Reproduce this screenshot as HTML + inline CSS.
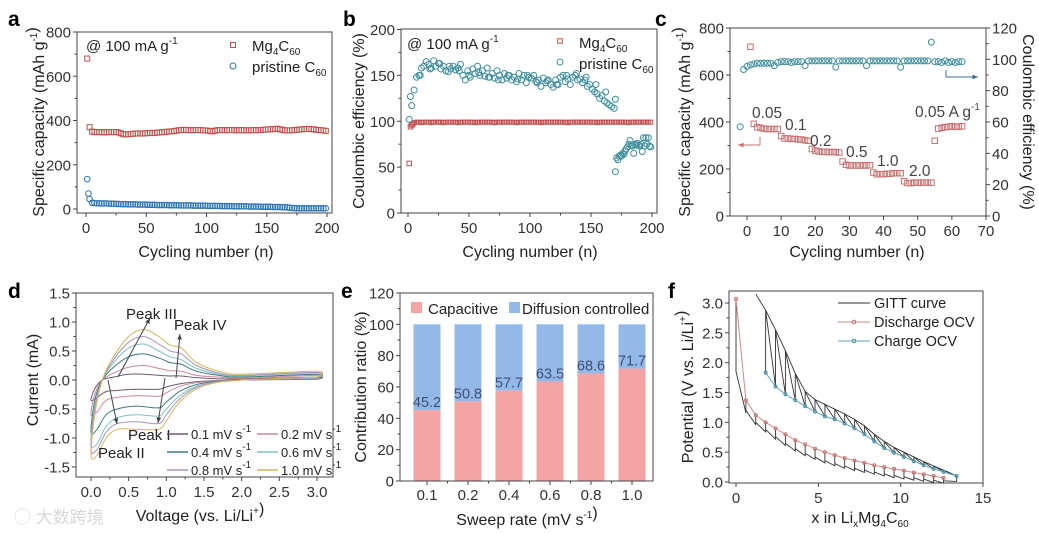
<!DOCTYPE html>
<html><head><meta charset="utf-8">
<style>
html,body{margin:0;padding:0;background:#fff;}
svg{display:block;font-family:"Liberation Sans","Noto Sans CJK SC",sans-serif;}
</style></head>
<body>
<svg id="fig" width="1039" height="534" viewBox="0 0 1039 534" xmlns="http://www.w3.org/2000/svg">
<rect width="1039" height="534" fill="#fff"/>
</svg>
<script>
// ---------- data ----------
const aMg=[680,370,350,348,347,348,347,346,347,348,347,348,348,346,342,338,337,338,339,340,341,341,342,341,342,343,344,343,344,345,346,347,348,349,350,351,352,354,356,357,358,357,357,356,356,357,357,356,356,355,354,352,351,354,356,357,357,356,356,357,357,356,356,356,357,356,356,355,356,357,356,357,357,358,359,360,360,361,362,363,360,358,356,355,355,356,357,358,359,360,361,362,362,361,360,358,357,356,355,353];
const aPr=[135,45,28,27,26,26,25,25,25,24,24,24,23,23,22,22,22,21,21,21,21,20,20,20,20,19,19,19,19,18,18,18,18,18,17,17,17,17,17,16,16,16,16,16,15,15,15,15,15,15,14,14,14,14,14,14,13,13,13,13,13,12,12,12,12,12,12,11,11,11,11,11,10,10,10,10,10,9,9,9,9,8,8,7,6,5,4,3,3,3,3,3,3,3,3,3,3,3,3,3];
const aPrEarly=[70];
const bMgEarly=[54,94,96,97];
const bMg=[98.5,99,99,98.5,99,99,99,98.5,99,99,99,99,98.5,99,99,99,99,99,98.5,99,99,99,99,99,99,98.5,99,99,99,99,99,99,99,98.5,99,99,99,99,99,99,99,99,98.5,99,99,99,99,99,99,99,99,99,98.5,99,99,99,99,99,99,99,99,99,99,98.5,99,99,99,99,99,99,99,99,99,99,99,98.5,99,99,99,99,99,99,99,99,99,99,99,99,98.5,99,99,99,99,99,99,99,99,99];
const bPr1=[102,117,134,148,150,158,160,165,162,158,166,160,163,157,160,155,154,157,160,156,158,162,150,145,155,148,157,152,160,150,155,149,158,148,152,147,155,150,145,152,147,150,145,148,143,152,145,150,142,148,147,150,143,145,138,147,142,145,140,137,145,140,148,150,143,146,140,148,150,145,146,142,145,138,140,135,132,130,125,128,122,120,118,116,114];
const bPr1b=[127,150,157,163,160,155,150,153,148,145,150,146,150,142,144,140,150,152,148,140,132,124];
const bPr2=[45,60,58,62,63,62,65,64,68,70,72,75,79,74,73,65,75,74,76,74,73,75,67,82,73,82,75,82,73,72];
const cCap=[720,392,378,375,372,370,370,370,370,340,330,330,328,328,326,325,322,320,285,278,275,273,273,272,272,272,270,232,218,215,215,215,215,215,215,216,185,178,178,178,180,180,182,182,182,148,140,140,142,142,142,142,142,142,320,372,375,378,380,382,380,380,382];
const cCE=[57,93.5,95.5,96.5,97,97.5,97.5,97.5,97.5,97.5,96,98,98.5,98.5,98.5,98,98.5,98.5,98.5,96,99,99,99,99,99,99,99,99,95,99,99,99,99,99,99,99,99,96,99,99,99,99,99,99,99,99,99,95,99,99,99,99,99,99,99,99,111,98.5,98.5,98,99,98,98.5,98,98.5,98.5];
const cRateLabels=['0.05','0.1','0.2','0.5','1.0','2.0'];
const dVC=[3.0,2.0,1.5,1.2,1.0,0.9,0.6,0.35,0.2,0.08,0.0];
const dVA=[0.0,0.05,0.15,0.3,0.5,0.7,0.9,1.05,1.2,1.4,1.7,2.0,3.0];
const dRates=['0.1','0.2','0.4','0.6','0.8','1.0'];
const dIC01=[0.01,0,-0.02,-0.06,-0.12,-0.16,-0.16,-0.18,-0.2,-0.3,-0.35];
const dIC02=[0.02,0,-0.03,-0.1,-0.22,-0.28,-0.27,-0.3,-0.35,-0.55,-0.6];
const dIC04=[0.03,0,-0.05,-0.18,-0.38,-0.48,-0.45,-0.5,-0.6,-0.85,-0.9];
const dIC06=[0.03,0,-0.07,-0.25,-0.5,-0.62,-0.6,-0.65,-0.8,-1.1,-1.1];
const dIC08=[0.04,0,-0.08,-0.3,-0.6,-0.75,-0.72,-0.75,-0.9,-1.2,-1.2];
const dIC10=[0.05,0,-0.1,-0.35,-0.7,-0.85,-0.85,-0.85,-1.0,-1.3,-1.3];
const dIA01=[-0.35,-0.15,0,0.05,0.1,0.1,0.08,0.07,0.07,0.04,0.02,0.02,0.05];
const dIA02=[-0.6,-0.25,0,0.12,0.22,0.25,0.2,0.16,0.15,0.08,0.05,0.03,0.08];
const dIA04=[-0.9,-0.35,0,0.22,0.4,0.45,0.38,0.3,0.27,0.15,0.08,0.05,0.1];
const dIA06=[-1.1,-0.45,0,0.3,0.55,0.62,0.5,0.4,0.35,0.2,0.1,0.07,0.12];
const dIA08=[-1.2,-0.5,0,0.35,0.65,0.75,0.62,0.5,0.45,0.25,0.12,0.08,0.13];
const dIA10=[-1.3,-0.6,0,0.4,0.75,0.87,0.75,0.6,0.55,0.3,0.15,0.1,0.15];
const eCats=['0.1','0.2','0.4','0.6','0.8','1.0'];
const eCap=[45.2,50.8,57.7,63.5,68.6,71.7];
const fDisX=[0,0.6,1.2,1.8,2.4,3.0,3.6,4.2,4.8,5.4,6.0,6.6,7.2,7.8,8.4,9.0,9.6,10.2,10.8,11.4,12.0,12.6];
const fDisOCV=[3.07,1.37,1.12,1.0,0.9,0.8,0.7,0.63,0.56,0.5,0.45,0.4,0.36,0.32,0.28,0.25,0.22,0.19,0.16,0.13,0.1,0.07];
const fDisLow=[1.85,1.2,1.0,0.88,0.76,0.65,0.56,0.48,0.42,0.36,0.31,0.27,0.23,0.2,0.17,0.14,0.11,0.09,0.07,0.05,0.03,0.02];
const fChX=[1.8,2.4,3.0,3.6,4.2,4.8,5.4,6.0,6.6,7.2,7.8,8.4,9.0,9.6,10.2,10.8,11.4,12.0,12.6,13.4];
const fChOCV=[1.83,1.6,1.47,1.37,1.27,1.18,1.1,1.05,0.98,0.9,0.8,0.68,0.57,0.49,0.42,0.35,0.28,0.22,0.17,0.1];
const fChTop=[2.88,2.55,2.2,1.82,1.52,1.38,1.3,1.22,1.14,1.05,0.94,0.8,0.68,0.58,0.5,0.42,0.34,0.27,0.2,0.1];

// ---------- helpers ----------
const NS='http://www.w3.org/2000/svg';
const svg=document.getElementById('fig');
function mk(tag,attrs,name,parent){
  const e=document.createElementNS(NS,tag);
  for(const k in attrs)e.setAttribute(k,attrs[k]);
  
  
  (parent||svg).appendChild(e);return e;
}
function lin(d0,d1,r0,r1){return v=>r0+(v-d0)*(r1-r0)/(d1-d0);}
function txt(x,y,s,size,name,opt){
  opt=opt||{};
  const t=mk('text',{x:x,y:y,'font-size':size,fill:opt.fill||'#222','text-anchor':opt.anchor||'start','font-weight':opt.bold?'bold':'normal'},name);
  if(opt.rot)t.setAttribute('transform','rotate(-90 '+x+' '+y+')');
  t.innerHTML=s;return t;
}
function axes(p,name){
  mk('rect',{x:p.L,y:p.T,width:p.R-p.L,height:p.B-p.T,fill:'none',stroke:'#444','stroke-width':1},name+'-frame');
  p.xt.forEach((v,i)=>{const x=p.xs(v);
    mk('line',{x1:x,y1:p.B,x2:x,y2:p.B+4,stroke:'#444'},name+'-x-tick');
    txt(x,p.B+20,p.xl?p.xl[i]:String(v),15,name+'-x-tick-label',{anchor:'middle',fill:'#333'});
    if(p.xminor&&i<p.xt.length-1){const xm=p.xs((v+p.xt[i+1])/2);mk('line',{x1:xm,y1:p.B,x2:xm,y2:p.B+2.5,stroke:'#444'},name+'-x-minor-tick');}
  });
  p.yt.forEach((v,i)=>{const y=p.ys(v);
    mk('line',{x1:p.L-4,y1:y,x2:p.L,y2:y,stroke:'#444'},name+'-y-tick');
    txt(p.L-6,y+5.5,p.yl?p.yl[i]:String(v),15,name+'-y-tick-label',{anchor:'end',fill:'#333'});
    if(i<p.yt.length-1){const ym=p.ys((v+p.yt[i+1])/2);mk('line',{x1:p.L-2.5,y1:ym,x2:p.L,y2:ym,stroke:'#444'},name+'-y-minor-tick');}
  });
}
function sq(x,y,s,c,name){mk('rect',{x:x-s/2,y:y-s/2,width:s,height:s,fill:'none',stroke:c,'stroke-width':1},name);}
function ci(x,y,r,c,name){mk('circle',{cx:x,cy:y,r:r,fill:'none',stroke:c,'stroke-width':1},name);}
function smooth(pts){
  let d='M'+pts[0][0]+','+pts[0][1];
  for(let i=0;i<pts.length-1;i++){
    const p0=pts[Math.max(0,i-1)],p1=pts[i],p2=pts[i+1],p3=pts[Math.min(pts.length-1,i+2)];
    const c1=[p1[0]+(p2[0]-p0[0])/6,p1[1]+(p2[1]-p0[1])/6],c2=[p2[0]-(p3[0]-p1[0])/6,p2[1]-(p3[1]-p1[1])/6];
    d+=' C'+c1[0]+','+c1[1]+' '+c2[0]+','+c2[1]+' '+p2[0]+','+p2[1];
  }
  return d;
}
function arrow(x1,y1,x2,y2,c,name){
  mk('line',{x1:x1,y1:y1,x2:x2,y2:y2,stroke:c,'stroke-width':1},name);
  const a=Math.atan2(y2-y1,x2-x1),L=6;
  const p=[[x2,y2],[x2-L*Math.cos(a-0.4),y2-L*Math.sin(a-0.4)],[x2-L*Math.cos(a+0.4),y2-L*Math.sin(a+0.4)]];
  mk('polygon',{points:p.map(q=>q.join(',')).join(' '),fill:c},name+'-head');
}
const RED='#c0504d',BLUE='#2e75b6',TEAL='#3f8e9e';
const sup=(s)=>'<tspan dy="-7" font-size="10">'+s+'</tspan><tspan dy="7"></tspan>';
const MG='Mg<tspan dy="4" font-size="10">4</tspan><tspan dy="-4">C</tspan><tspan dy="4" font-size="10">60</tspan>';
const YT=16;

// ---------- panel a ----------
{
const p={L:77,R:332,T:32,B:213,xs:lin(0,200,86,327),ys:lin(0,800,209,32),xt:[0,50,100,150,200],yt:[0,200,400,600,800],xminor:true};
txt(8,26,'a',21,'panel-label-a',{bold:true,fill:'#000'});
aMg.forEach((v,i)=>sq(p.xs(1+2*i),p.ys(v),5,RED,'mg4c60-capacity-point'));
aPr.forEach((v,i)=>ci(p.xs(1+2*i),p.ys(v),2.8,BLUE,'pristine-capacity-point'));
aPrEarly.forEach((v,i)=>ci(p.xs(2+i),p.ys(v),2.8,BLUE,'pristine-capacity-point'));
axes(p,'a');
txt(86,51,'@ 100 mA g'+sup('-1'),15,'a-rate-note');
sq(233,45,5,RED,'a-legend-mg-marker');
txt(252,51,MG,15,'a-legend-mg-label');
ci(233,66,3,BLUE,'a-legend-pristine-marker');
txt(252,72,'pristine C<tspan dy="4" font-size="10">60</tspan>',15,'a-legend-pristine-label');
txt(206,257,'Cycling number (n)',YT,'a-x-axis-title',{anchor:'middle'});
txt(44,122,'Specific capacity (mAh g'+sup('-1')+')',YT,'a-y-axis-title',{anchor:'middle',rot:true});
}
// ---------- panel b ----------
{
const p={L:401,R:657,T:29,B:213,xs:lin(0,200,408,652),ys:lin(0,200,213,29.5),xt:[0,50,100,150,200],yt:[0,50,100,150,200],xminor:true};
txt(343,26,'b',21,'panel-label-b',{bold:true,fill:'#000'});
bMgEarly.forEach((v,i)=>sq(p.xs(1+i),p.ys(v),4.5,RED,'b-mg4c60-ce-point'));
bMg.forEach((v,i)=>sq(p.xs(5+2*i),p.ys(v),4,RED,'b-mg4c60-ce-point'));
bPr1.forEach((v,i)=>ci(p.xs(1+2*i),p.ys(v),3,TEAL,'b-pristine-ce-point'));
bPr1b.forEach((v,i)=>ci(p.xs(2+8*i),p.ys(v),3,TEAL,'b-pristine-ce-point'));
bPr2.forEach((v,i)=>ci(p.xs(170+i),p.ys(v),3,TEAL,'b-pristine-ce-point'));
axes(p,'b');
txt(407,49,'@ 100 mA g'+sup('-1'),15,'b-rate-note');
sq(560,41,4.5,RED,'b-legend-mg-marker');
txt(579,48,MG,15,'b-legend-mg-label');
ci(560,62,3,TEAL,'b-legend-pristine-marker');
txt(579,69,'pristine C<tspan dy="4" font-size="10">60</tspan>',15,'b-legend-pristine-label');
txt(530,257,'Cycling number (n)',YT,'b-x-axis-title',{anchor:'middle'});
txt(364,121,'Coulombic efficiency (%)',YT,'b-y-axis-title',{anchor:'middle',rot:true});
}
// ---------- panel c ----------
{
const p={L:730,R:986,T:28,B:216,xs:lin(0,70,747,986),ys:lin(0,800,216,28),xt:[0,10,20,30,40,50,60,70],yt:[0,200,400,600,800]};
const yr=lin(0,120,216,28);
txt(655,26,'c',21,'panel-label-c',{bold:true,fill:'#000'});
cCap.forEach((v,i)=>sq(p.xs(1+i),p.ys(v),5.5,'#c86f6f','c-capacity-point'));
cCE.forEach((v,i)=>ci(p.xs(-2+i),yr(v),3,TEAL,'c-ce-point'));
axes(p,'c');
[0,20,40,60,80,100,120].forEach((v,i,arr)=>{const y=yr(v);
  mk('line',{x1:986,y1:y,x2:990,y2:y,stroke:'#444'},'c-right-y-tick');
  txt(992,y+5.5,String(v),15,'c-right-y-tick-label',{fill:'#333'});
  if(i<arr.length-1){const ym=yr(v+10);mk('line',{x1:986,y1:ym,x2:988.5,y2:ym,stroke:'#444'},'c-right-y-minor-tick');}
});
const lab=[[752,118],[785,130],[810,146],[846,157],[877,166],[909,176]];
cRateLabels.forEach((s,i)=>txt(lab[i][0],lab[i][1],s,15.5,'c-rate-label',{fill:'#444'}));
txt(915,117,'0.05 A g'+sup('-1'),15.5,'c-rate-label-return',{fill:'#444'});
mk('line',{x1:760,y1:137,x2:760,y2:145,stroke:'#c86f6f'},'c-left-arrow-stem');
arrow(760,145,738,145,'#c86f6f','c-left-arrow');
mk('line',{x1:946,y1:70,x2:946,y2:77,stroke:'#3f6f8e'},'c-right-arrow-stem');
arrow(946,77,978,77,'#3f6f8e','c-right-arrow');
txt(857,257,'Cycling number (n)',YT,'c-x-axis-title',{anchor:'middle'});
txt(690,122,'Specific capacity (mAh g'+sup('-1')+')',YT,'c-left-y-axis-title',{anchor:'middle',rot:true});
const rt=txt(1023,122,'Coulombic efficiency (%)',YT,'c-right-y-axis-title',{anchor:'middle'});
rt.setAttribute('transform','rotate(90 1023 122)');
}
// ---------- panel d ----------
{
const p={L:76,R:333,T:293,B:477,xs:lin(0,3,91,317),ys:lin(-1.5,1.5,467,293),xt:[0,0.5,1,1.5,2,2.5,3],xl:['0.0','0.5','1.0','1.5','2.0','2.5','3.0'],yt:[-1.5,-1,-0.5,0,0.5,1,1.5],yl:['-1.5','-1.0','-0.5','0.0','0.5','1.0','1.5'],xminor:true};
txt(8,298,'d',21,'panel-label-d',{bold:true,fill:'#000'});
const cols=['#6d5a6e','#c98a98','#3b7a82','#7fc0c4','#a795bf','#d9b45a'];
const IC=[dIC01,dIC02,dIC04,dIC06,dIC08,dIC10],IA=[dIA01,dIA02,dIA04,dIA06,dIA08,dIA10];
for(let k=0;k<6;k++){
  const pts=dVC.map((v,i)=>[p.xs(v),p.ys(IC[k][i])]).concat(dVA.slice(1).map((v,i)=>[p.xs(v),p.ys(IA[k][i+1])]));
  pts.push(pts[0]);
  mk('path',{d:smooth(pts),fill:'none',stroke:cols[k],'stroke-width':1},'cv-curve-'+dRates[k]);
}
axes(p,'d');
txt(126,319,'Peak III',15,'d-peak-iii-label');
txt(174,330,'Peak IV',15,'d-peak-iv-label');
txt(128,440,'Peak I',15,'d-peak-i-label');
txt(98,458,'Peak II',15,'d-peak-ii-label');
arrow(118,377,150,318,'#444','d-peak-iii-arrow');
arrow(176,378,180,334,'#444','d-peak-iv-arrow');
arrow(165,378,158,423,'#444','d-peak-i-arrow');
arrow(108,380,117,424,'#444','d-peak-ii-arrow');
dRates.forEach((r,i)=>{
  const col=i%2,row=Math.floor(i/2);
  const x=col?257:167,y=434+row*18;
  mk('line',{x1:x,y1:y,x2:x+21,y2:y,stroke:cols[i],'stroke-width':1.5},'d-legend-line');
  txt(x+24,y+5,r+' mV s'+sup('-1'),13,'d-legend-label');
});
txt(200,521,'Voltage (vs. Li/Li'+sup('+')+')',YT,'d-x-axis-title',{anchor:'middle'});
txt(38,380,'Current (mA)',YT,'d-y-axis-title',{anchor:'middle',rot:true});
txt(14,523,'&#9711; 大数跨境',17,'watermark',{fill:'#d8d8d8'});
}
// ---------- panel e ----------
{
const p={L:400,R:653,T:293,B:481,xs:null,ys:lin(0,120,481,293),xt:[],yt:[0,20,40,60,80,100,120]};
const xc=lin(0,5,427,632),bw=27;
txt(341,298,'e',21,'panel-label-e',{bold:true,fill:'#000'});
eCap.forEach((v,i)=>{
  const x=xc(i);
  mk('rect',{x:x-bw/2,y:p.ys(100),width:bw,height:p.ys(v)-p.ys(100),fill:'#94b8e8'},'bar-diffusion-'+eCats[i]);
  mk('rect',{x:x-bw/2,y:p.ys(v),width:bw,height:p.ys(0)-p.ys(v),fill:'#f4a4a4'},'bar-capacitive-'+eCats[i]);
  txt(x,p.ys(v)-3,v.toFixed(1),14.5,'bar-value-label',{anchor:'middle',fill:'#3d4f75'});
});
axes(p,'e');
eCats.forEach((c,i)=>{const x=xc(i);
  mk('line',{x1:x,y1:p.B,x2:x,y2:p.B+4,stroke:'#444'},'e-x-tick');
  txt(x,p.B+19,c,15,'e-x-tick-label',{anchor:'middle',fill:'#333'});
  if(i<5){const xm=(x+xc(i+1))/2;mk('line',{x1:xm,y1:p.B,x2:xm,y2:p.B+2.5,stroke:'#444'},'e-x-minor-tick');}
});
mk('rect',{x:411,y:302,width:11,height:11,fill:'#f4a4a4'},'e-legend-capacitive-swatch');
txt(428,314,'Capacitive',15,'e-legend-capacitive-label');
mk('rect',{x:509,y:302,width:11,height:11,fill:'#94b8e8'},'e-legend-diffusion-swatch');
txt(522,314,'Diffusion controlled',15,'e-legend-diffusion-label');
txt(527,525,'Sweep rate (mV s'+sup('-1')+')',YT,'e-x-axis-title',{anchor:'middle'});
txt(366,387,'Contribution ratio (%)',YT,'e-y-axis-title',{anchor:'middle',rot:true});
}
// ---------- panel f ----------
{
const p={L:729,R:983,T:291,B:483,xs:lin(0,15,736,983),ys:lin(0,3,482,303),xt:[0,5,10,15],yt:[0,0.5,1,1.5,2,2.5,3],yl:['0.0','0.5','1.0','1.5','2.0','2.5','3.0']};
txt(668,298,'f',21,'panel-label-f',{bold:true,fill:'#000'});
let d='M'+p.xs(fDisX[0])+','+p.ys(fDisOCV[0]);
for(let i=0;i<fDisX.length;i++){
  const last=i===fDisX.length-1;
  const xn=last?13.4:fDisX[i+1];
  d+=' L'+p.xs(fDisX[i])+','+p.ys(fDisLow[i]);
  d+=' L'+p.xs(xn)+','+p.ys(last?0.01:fDisLow[i+1]-0.04);
  d+=' L'+p.xs(xn)+','+p.ys(last?0.1:fDisOCV[i+1]);
}
for(let i=fChX.length-1;i>0;i--){
  d+=' L'+p.xs(fChX[i-1])+','+p.ys(fChTop[i-1]);
  d+=' L'+p.xs(fChX[i-1])+','+p.ys(fChOCV[i-1]);
}
mk('path',{d:d,fill:'none',stroke:'#333','stroke-width':0.9},'gitt-curve');
mk('path',{d:'M'+p.xs(1.2)+','+p.ys(3.15)+' L'+fChX.map((x,i)=>p.xs(x)+','+p.ys(fChTop[i])).join(' L'),fill:'none',stroke:'#333','stroke-width':0.9},'gitt-charge-envelope');
mk('path',{d:'M'+fDisX.map((x,i)=>p.xs(x)+','+p.ys(fDisOCV[i])).join(' L'),fill:'none',stroke:'#d08a8a','stroke-width':1},'discharge-ocv-line');
fDisX.forEach((x,i)=>ci(p.xs(x),p.ys(fDisOCV[i]),1.5,'#c86f6f','discharge-ocv-point'));
mk('path',{d:'M'+fChX.map((x,i)=>p.xs(x)+','+p.ys(fChOCV[i])).join(' L'),fill:'none',stroke:'#5fa6b8','stroke-width':1},'charge-ocv-line');
fChX.forEach((x,i)=>ci(p.xs(x),p.ys(fChOCV[i]),1.5,'#4a90a8','charge-ocv-point'));
axes(p,'f');
mk('line',{x1:838,y1:303,x2:870,y2:303,stroke:'#333'},'f-legend-gitt-line');
txt(874,308,'GITT curve',14.5,'f-legend-gitt-label');
mk('line',{x1:838,y1:322,x2:870,y2:322,stroke:'#d08a8a'},'f-legend-discharge-line');
ci(854,322,1.8,'#c86f6f','f-legend-discharge-marker');
txt(874,327,'Discharge OCV',14.5,'f-legend-discharge-label');
mk('line',{x1:838,y1:341,x2:870,y2:341,stroke:'#5fa6b8'},'f-legend-charge-line');
ci(854,341,1.8,'#4a90a8','f-legend-charge-marker');
txt(874,346,'Charge OCV',14.5,'f-legend-charge-label');
txt(860,523,'x in Li<tspan dy="4" font-size="10">x</tspan><tspan dy="-4">'+MG+'</tspan>',YT,'f-x-axis-title',{anchor:'middle'});
txt(693,387,'Potential (V vs. Li/Li'+sup('+')+')',YT,'f-y-axis-title',{anchor:'middle',rot:true});
}
</script>
</body></html>
